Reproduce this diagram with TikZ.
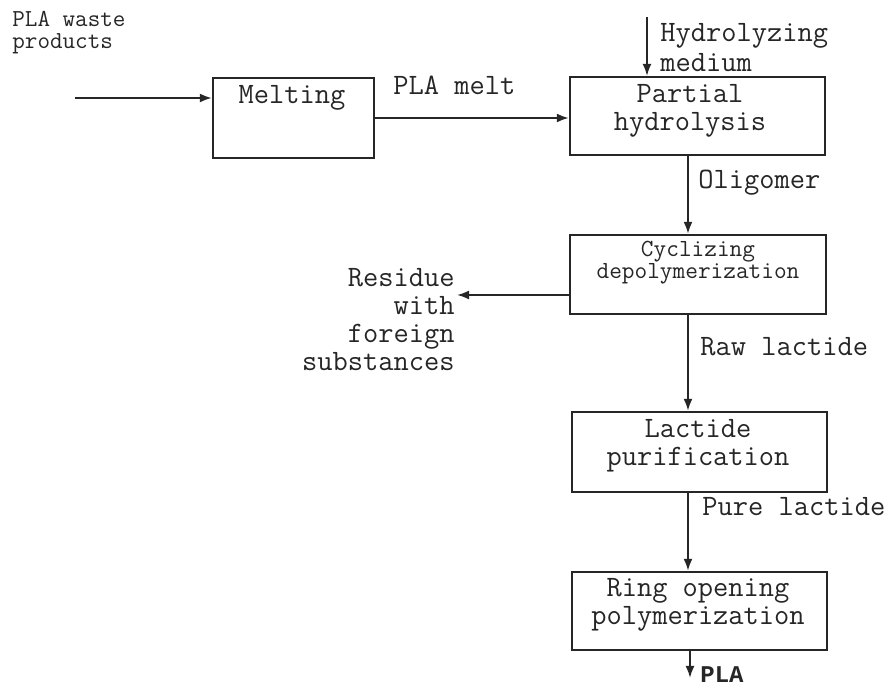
\documentclass[tikz,border=0pt]{standalone}
\usepackage{fontspec}
\newfontfamily\plafont{Liberation Mono}
\usetikzlibrary{arrows.meta}
\definecolor{ink}{rgb}{0.15,0.15,0.15}
\begin{document}
\begin{tikzpicture}[x=0.5pt,y=-0.5pt,
  every node/.style={text=ink, font=\ttfamily\fontsize{14.8}{14}\selectfont, inner sep=0pt},
  procbox/.style={draw=ink, line width=1.2pt, rectangle},
  flow/.style={draw=ink, line width=1pt, -{Latex[length=6pt,width=4.5pt]}},
  thinflow/.style={draw=ink, line width=0.75pt, -{Latex[length=6pt,width=4.5pt]}},
  small/.style={font=\ttfamily\fontsize{12.3}{11}\selectfont},
  lbl/.style={align=left, anchor=west},
]
\useasboundingbox (0,0) rectangle (890,689);
\fill[white] (0,0) rectangle (890,689);

% boxes
\node[procbox, minimum width=80.5pt, minimum height=40pt] (melt) at (293.5,118) {};
\node[procbox, minimum width=127.5pt, minimum height=39pt] (part) at (697.5,116) {};
\node[procbox, minimum width=128pt, minimum height=39.5pt] (cyc) at (698,274.5) {};
\node[procbox, minimum width=127.5pt, minimum height=40pt] (pur) at (699.5,452) {};
\node[procbox, minimum width=127.5pt, minimum height=39pt] (rop) at (699.5,611) {};

% box texts
\node (meltT) at (292,98) {Melting};
\node[align=center] (partT) at (690,111) {Partial\\hydrolysis};
\node[align=center, small] (cycT) at (698,263) {Cyclizing\\depolymerization};
\node[align=center] (purT) at (698,446) {Lactide\\purification};
\node[align=center] (ropT) at (698,604.5) {Ring opening\\polymerization};

% free labels
\node[lbl, font=\ttfamily\fontsize{12.2}{11}\selectfont] (waste) at (12,32.5) {PLA waste\\products};
\node[lbl] (meltL) at (393,85) {PLA melt};
\node[lbl, font=\ttfamily\fontsize{14.8}{15}\selectfont] (hydL) at (660,48) {Hydrolyzing\\medium};
\node[lbl] (oliL) at (698,183) {Oligomer};
\node[align=right, anchor=east] (resL) at (455,320) {Residue\\with\\foreign\\substances};
\node[lbl] (rawL) at (700,347) {Raw lactide};
\node[lbl] (pureL) at (702,507) {Pure lactide};
\node[lbl, font=\plafont\bfseries\fontsize{12}{12}\selectfont] (plaL) at (700,675) {PLA};

% helper coordinates
\coordinate (inS) at (75,98);
\coordinate (hydS) at (647,17);
\coordinate (ax) at (688,0);
\coordinate (resE) at (457,295);
\coordinate (plaE) at (690,678);

% connectors
\draw[flow] (inS) -- (inS -| melt.west);
\draw[flow] (melt.east) -- (melt.east -| part.west);
\draw[thinflow] (hydS) -- (hydS |- part.north);
\draw[flow] (part.south -| ax) -- (cyc.north -| ax);
\draw[flow] (resE -| cyc.west) -- (resE);
\draw[flow] (cyc.south -| ax) -- (pur.north -| ax);
\draw[flow] (pur.south -| ax) -- (rop.north -| ax);
\draw[flow] (rop.south -| plaE) -- (plaE);
\end{tikzpicture}
\end{document}
